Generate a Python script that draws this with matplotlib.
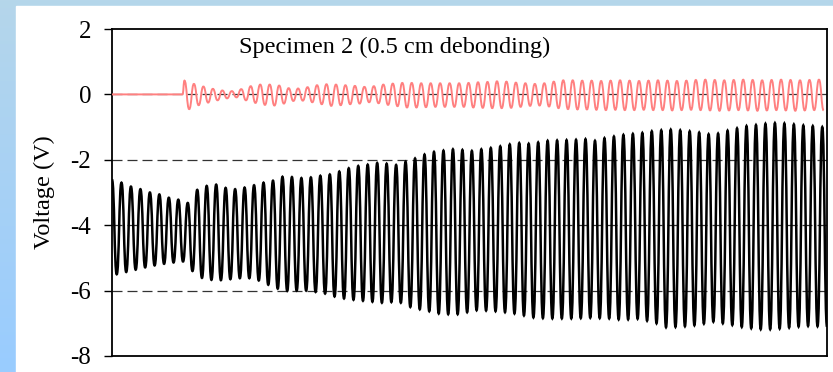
import matplotlib.pyplot as plt
import numpy as np
from matplotlib.path import Path
from matplotlib.patches import PathPatch

plt.rcParams['font.family'] = ['Liberation Serif', 'DejaVu Serif']
plt.rcParams['axes.unicode_minus'] = False

# Black trace (lower channel): successive peak / trough values, one pair per cycle
black_hi = [-2.61, -2.70, -2.82, -2.90, -3.00, -3.06, -3.16, -3.22, -3.32, -2.92,
            -2.80, -2.76, -2.86, -2.90, -2.85, -2.78, -2.70, -2.64, -2.52, -2.53,
            -2.56, -2.54, -2.49, -2.45, -2.36, -2.26, -2.19, -2.15, -2.10, -2.12,
            -2.16, -2.06, -1.96, -1.84, -1.76, -1.72, -1.68, -1.70, -1.73, -1.68,
            -1.64, -1.59, -1.53, -1.49, -1.51, -1.47, -1.42, -1.41, -1.40, -1.39,
            -1.37, -1.42, -1.34, -1.29, -1.24, -1.21, -1.18, -1.13, -1.10, -1.08,
            -1.10, -1.13, -1.17, -1.22, -1.20, -1.11, -1.04, -0.97, -0.94, -0.90,
            -0.88, -0.89, -0.92, -0.95, -0.97, -1.00]
black_lo = [-5.50, -5.43, -5.36, -5.29, -5.23, -5.18, -5.14, -5.11, -5.40, -5.61,
            -5.67, -5.68, -5.65, -5.62, -5.62, -5.69, -5.82, -5.94, -6.01, -6.00,
            -6.00, -6.04, -6.09, -6.18, -6.24, -6.28, -6.31, -6.34, -6.37, -6.35,
            -6.37, -6.50, -6.57, -6.63, -6.70, -6.72, -6.72, -6.66, -6.60, -6.61,
            -6.63, -6.66, -6.70, -6.76, -6.82, -6.84, -6.85, -6.85, -6.85, -6.84,
            -6.83, -6.84, -6.85, -6.88, -6.88, -6.86, -6.92, -7.00, -7.12, -7.11,
            -7.09, -7.06, -7.01, -6.95, -7.00, -7.05, -7.11, -7.15, -7.18, -7.18,
            -7.16, -7.13, -7.10, -7.08, -7.09, -7.10]

# Red trace (upper channel): flat at 0 before the burst, then peak / trough pairs
red_flat_len = 15.3
red_hi = [0.42, 0.32, 0.24, 0.17, 0.12, 0.10, 0.16, 0.25, 0.30, 0.30,
          0.27, 0.19, 0.18, 0.22, 0.28, 0.31, 0.30, 0.28, 0.26, 0.23,
          0.25, 0.30, 0.33, 0.35, 0.35, 0.34, 0.34, 0.34, 0.34, 0.34,
          0.35, 0.37, 0.38, 0.40, 0.39, 0.36, 0.34, 0.32, 0.34, 0.39,
          0.43, 0.43, 0.42, 0.42, 0.41, 0.42, 0.43, 0.42, 0.41, 0.42,
          0.43, 0.42, 0.41, 0.42, 0.44, 0.45, 0.44, 0.43, 0.44, 0.45,
          0.44, 0.43, 0.44, 0.45, 0.44, 0.43, 0.44, 0.45]
red_lo = [-0.45, -0.33, -0.25, -0.18, -0.12, -0.09, -0.18, -0.26, -0.32, -0.34,
          -0.28, -0.20, -0.19, -0.24, -0.30, -0.35, -0.33, -0.30, -0.28, -0.24,
          -0.27, -0.32, -0.36, -0.40, -0.40, -0.39, -0.38, -0.38, -0.38, -0.38,
          -0.40, -0.41, -0.42, -0.42, -0.41, -0.38, -0.35, -0.34, -0.37, -0.42,
          -0.45, -0.46, -0.46, -0.47, -0.48, -0.47, -0.48, -0.48, -0.47, -0.48,
          -0.48, -0.49, -0.48, -0.47, -0.48, -0.49, -0.50, -0.49, -0.48, -0.49,
          -0.50, -0.49, -0.48, -0.49, -0.50, -0.49, -0.48, -0.49]

y_ticks = [2, 0, -2, -4, -6, -8]
title = 'Specimen 2 (0.5 cm debonding)'


def smooth_path(t, y, k=0.5):
    # smoothed line through the points (horizontal tangents at each extreme)
    verts = [(t[0], y[0])]
    codes = [Path.MOVETO]
    for i in range(1, len(t)):
        dt = t[i] - t[i - 1]
        verts += [(t[i - 1] + k * dt, y[i - 1]), (t[i] - k * dt, y[i]), (t[i], y[i])]
        codes += [Path.CURVE4] * 3
    return Path(verts, codes)


black_y = np.column_stack([black_hi, black_lo]).ravel()
black_t = np.arange(len(black_y))
red_osc = np.column_stack([red_hi, red_lo]).ravel()
red_y = np.concatenate([[0, 0], red_osc])
red_t = np.concatenate([[0, red_flat_len - 0.4], red_flat_len + np.arange(len(red_osc))])

fig = plt.figure(figsize=(8.33, 3.72), dpi=100)

# light blue frame on the left / top edges
bg = fig.add_axes([0, 0, 1, 1], zorder=-10)
grad = np.linspace(0, 1, 256).reshape(-1, 1)
c_top = np.array([0.71, 0.84, 0.92])
c_bot = np.array([0.60, 0.80, 1.00])
img = c_top + (c_bot - c_top) * grad[:, :, None]
bg.imshow(img, aspect='auto', extent=[0, 1, 0, 1], origin='upper')
bg.add_patch(plt.Rectangle((16 / 833, 0), 1, 1 - 6 / 372, color='white'))
bg.set_xlim(0, 1)
bg.set_ylim(0, 1)
bg.axis('off')

ax = fig.add_axes([112 / 833, 1 - 356 / 372, 715 / 833, 327 / 372])
for yv in [0, -2, -4, -6]:
    ax.axhline(yv, color='#333333', lw=0.9, ls=(0, (8, 4)), zorder=1)

ax.add_patch(PathPatch(smooth_path(black_t, black_y), fill=False, edgecolor='black',
                       lw=1.8, zorder=2))
ax.add_patch(PathPatch(smooth_path(red_t, red_y), fill=False, edgecolor='#ff8080',
                       lw=1.4, zorder=3))

ax.set_xlim(0, len(black_y) - 1)
ax.set_ylim(-8, 2)
ax.set_yticks(y_ticks)
ax.set_xticks([])
ax.tick_params(axis='y', direction='out', length=6, width=1, labelsize=18, pad=9)
for s in ax.spines.values():
    s.set_linewidth(1.3)
    s.set_color('black')
ax.set_ylabel('Voltage (V)', fontsize=17.5)
ax.yaxis.set_label_coords(-0.08, 0.5)
ax.text(0.395, 0.945, title, transform=ax.transAxes, ha='center', va='center', fontsize=17.5)

fig.savefig('out.png', dpi=100)
